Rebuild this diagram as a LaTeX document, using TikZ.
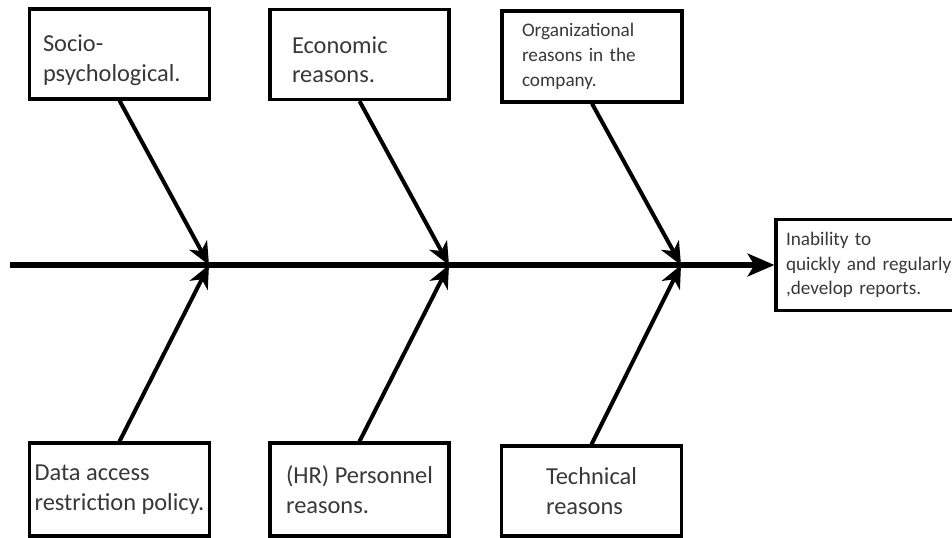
\documentclass[tikz,border=0pt]{standalone}
\usepackage{fontspec}
\setmainfont{Carlito}
\usetikzlibrary{arrows.meta}
\tikzset{
  cause/.style={draw, line width=2.4pt, inner sep=2pt, align=left, text=black!78, minimum width=135pt, minimum height=67.5pt, font=\fontsize{18.3}{22}\selectfont},
  small/.style={font=\fontsize{14.4}{18.5}\selectfont},
  lower/.style={text depth=#1},
  bone/.style={line width=3pt, -{Stealth[length=17pt,width=15pt,inset=5pt]}},
  spine/.style={line width=4.2pt, -{Stealth[length=20pt,width=17pt,inset=5pt]}}
}
\begin{document}
\begin{tikzpicture}[x=0.75pt,y=-0.75pt]
\useasboundingbox (0,0) rectangle (952,537);

\node[cause, lower=16pt, text width=114.75pt] (socio) at (119.5,54) {Socio-\\psychological.};
\node[cause, lower=14pt, text width=101.25pt, minimum width=134.25pt] (econ) at (359.5,54.5) {Economic\\reasons.};
\node[cause, small, text width=105pt, minimum height=68.25pt] (org) at (592,56.5) {Organizational\\reasons in the\\company.};

\node[cause, minimum height=69.75pt] (data) at (119.5,489.5) {Data access\\restriction policy.};
\node[cause, minimum width=134.25pt, minimum height=69.75pt] (hr) at (359.5,489.5) {(HR) Personnel\\reasons.};
\node[cause] (tech) at (591.5,491) {Technical\\reasons};

\node[cause, small, text width=127.5pt, minimum width=142.5pt, minimum height=68.25pt] (effect) at (871,265) {Inability to\\quickly and regularly\\,develop reports.};

\coordinate (tail) at (10,265);
\coordinate (j1) at (209,265);
\coordinate (j2) at (449,265);
\coordinate (j3) at (681,265);

\draw[spine] (tail) -- (effect.west);

\draw[bone] (socio.south) -- (j1);
\draw[bone] (econ.south) -- (j2);
\draw[bone] (org.south) -- (j3);
\draw[bone] (data.north) -- (j1);
\draw[bone] (hr.north) -- (j2);
\draw[bone] (tech.north) -- (j3);
\end{tikzpicture}
\end{document}
